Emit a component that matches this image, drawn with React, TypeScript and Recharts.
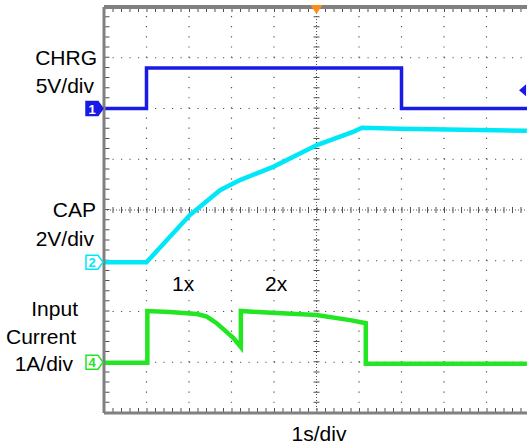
import React from "react";
import {
  ComposedChart,
  Line,
  XAxis,
  YAxis,
  ReferenceLine,
  ReferenceDot,
} from "recharts";

// time in divisions (1s/div), level in divisions from the bottom of the screen
const chrgTime = [0, 1, 1, 7, 7, 10];
const chrgDiv = [6, 6, 6.8, 6.8, 6, 6];

const capTime = [0, 1.0, 2.02, 2.73, 3.2, 3.98, 5.01, 5.86, 6.07, 6.96, 9.95];
const capDiv = [2.97, 2.97, 3.9, 4.39, 4.59, 4.85, 5.28, 5.54, 5.62, 5.6, 5.56];

const curTime = [0, 1.02, 1.02, 1.55, 2.19, 2.42, 2.65, 3.04, 3.22, 3.22, 3.83, 5.0, 5.79, 6.16, 6.16, 9.95];
const curDiv = [0.99, 0.99, 2.01, 1.99, 1.95, 1.9, 1.77, 1.48, 1.3, 2.01, 1.98, 1.93, 1.83, 1.77, 0.97, 0.97];

const xGrid = [1, 2, 3, 4, 6, 7, 8, 9];
const yGrid = [1, 2, 3, 5, 6, 7];

// channel ground markers
const markers = [
  { label: "1", level: 6, color: "#1a1ae6", filled: true },
  { label: "2", level: 2.97, color: "#00e8f8", filled: false },
  { label: "4", level: 1.0, color: "#22e622", filled: false },
];
const triggerTime = 5;
const triggerLevel = 6.36;

const toRows = (ts: number[], vs: number[]) => ts.map((t, i) => ({ t, v: vs[i] }));

const chrg = toRows(chrgTime, chrgDiv);
const cap = toRows(capTime, capDiv);
const cur = toRows(curTime, curDiv);

const BORDER = "#808080";
const DOT = "#505050";

const ChannelMarker = (p: any) => {
  const { cx, cy, payload } = p;
  const m = payload;
  const d = `M${cx - 18},${cy - 7} L${cx - 6},${cy - 7} L${cx - 1},${cy} L${cx - 6},${cy + 7} L${cx - 18},${cy + 7} Z`;
  return (
    <g>
      <path d={d} fill={m.filled ? m.color : "#fff"} stroke={m.color} strokeWidth={1.5} />
      <text
        x={cx - 12}
        y={cy + 5}
        textAnchor="middle"
        fontSize={13}
        fontWeight="bold"
        fontFamily="Liberation Sans, Arial, sans-serif"
        fill={m.filled ? "#fff" : m.color}
      >
        {m.label}
      </text>
    </g>
  );
};

const labelStyle = {
  fontFamily: "Liberation Sans, Arial, sans-serif",
  fontSize: 21,
  fill: "#000",
};

export default function App() {
  return (
    <div style={{ position: "absolute", left: 0, top: 0, width: 527, height: 446, overflow: "hidden", background: "#fff" }}>
      <ComposedChart
        width={540}
        height={446}
        margin={{ top: 7, right: 11, bottom: 33, left: 104 }}
      >
        <XAxis dataKey="t" type="number" domain={[0, 10]} hide />
        <YAxis type="number" domain={[0, 8]} hide />

        {xGrid.map((x) => (
          <ReferenceLine key={`vx${x}`} x={x} stroke={DOT} strokeWidth={1.2} strokeDasharray="1.2 8.95" />
        ))}
        {yGrid.map((y) => (
          <ReferenceLine key={`hy${y}`} y={y} stroke={DOT} strokeWidth={1.2} strokeDasharray="1.2 7.3" />
        ))}

        {/* centre graticule with minor ticks */}
        <ReferenceLine y={4} stroke={DOT} strokeWidth={1} strokeDasharray="1 2" />
        <ReferenceLine y={4} stroke={DOT} strokeWidth={6} strokeDasharray="1 7.5" />
        <ReferenceLine x={5} stroke={DOT} strokeWidth={1} strokeDasharray="1 2" />
        <ReferenceLine x={5} stroke={DOT} strokeWidth={6} strokeDasharray="1 9.15" />

        {/* border ticks */}
        <ReferenceLine x={0.07} stroke={DOT} strokeWidth={5} strokeDasharray="1 9.15" />
        <ReferenceLine y={7.95} stroke={DOT} strokeWidth={5} strokeDasharray="1 7.5" />
        <ReferenceLine y={0.05} stroke={DOT} strokeWidth={5} strokeDasharray="1 7.5" />

        <Line data={chrg} dataKey="v" type="linear" stroke="#1a1ae6" strokeWidth={3.5} dot={false} isAnimationActive={false} />
        <Line data={cap} dataKey="v" type="linear" stroke="#00e8f8" strokeWidth={4.5} dot={false} isAnimationActive={false} />
        <Line data={cur} dataKey="v" type="linear" stroke="#22e622" strokeWidth={4.5} dot={false} isAnimationActive={false} />

        {/* border */}
        <ReferenceLine x={0} stroke={BORDER} strokeWidth={3} />
        <ReferenceLine y={0} stroke={BORDER} strokeWidth={3} />
        <ReferenceLine y={8} stroke={BORDER} strokeWidth={4} />
        <ReferenceLine x={10} stroke={BORDER} strokeWidth={3} />

        {markers.map((m) => (
          <ReferenceDot
            key={m.label}
            x={0}
            y={m.level}
            ifOverflow="visible"
            shape={(p: any) => <ChannelMarker {...p} payload={m} />}
          />
        ))}
        <ReferenceDot
          x={triggerTime}
          y={8}
          ifOverflow="visible"
          shape={(p: any) => (
            <path d={`M${p.cx - 6},${p.cy - 2} L${p.cx + 6},${p.cy - 2} L${p.cx},${p.cy + 7} Z`} fill="#ff8c1a" />
          )}
        />
        <ReferenceDot
          x={9.86}
          y={triggerLevel}
          ifOverflow="visible"
          shape={(p: any) => (
            <path d={`M${p.cx - 4},${p.cy} L${p.cx + 3},${p.cy - 6} L${p.cx + 3},${p.cy + 6} Z`} fill="#1a1ae6" />
          )}
        />
      </ComposedChart>

      <svg width={527} height={446} style={{ position: "absolute", left: 0, top: 0, pointerEvents: "none" }}>
        <text x={97} y={65} textAnchor="end" {...labelStyle}>CHRG</text>
        <text x={94} y={93} textAnchor="end" {...labelStyle}>5V/div</text>
        <text x={96} y={217} textAnchor="end" {...labelStyle}>CAP</text>
        <text x={94} y={246} textAnchor="end" {...labelStyle}>2V/div</text>
        <text x={78} y={316} textAnchor="end" {...labelStyle}>Input</text>
        <text x={76} y={344} textAnchor="end" {...labelStyle}>Current</text>
        <text x={73} y={371} textAnchor="end" {...labelStyle}>1A/div</text>
        <text x={172} y={291} {...labelStyle}>1x</text>
        <text x={265} y={291} {...labelStyle}>2x</text>
        <text x={319} y={441} textAnchor="middle" {...labelStyle}>1s/div</text>
      </svg>
    </div>
  );
}
